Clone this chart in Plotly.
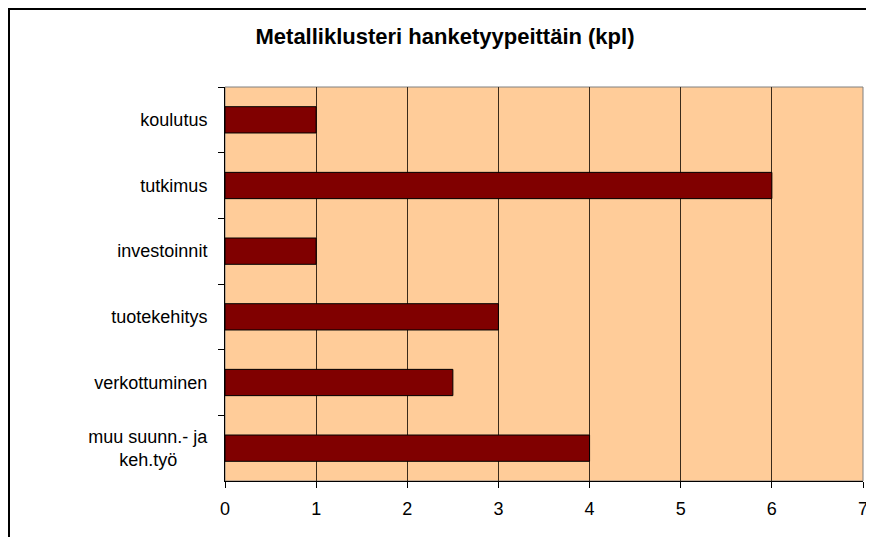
import plotly.graph_objects as go

NBSP = "\u00a0"
categories = ["koulutus", "tutkimus", "investoinnit", "tuotekehitys", "verkottuminen",
              "muu suunn.- ja<br>keh.työ" + NBSP * 6]
values = [1, 6, 1, 3, 2.5, 4]
x_ticks = [0, 1, 2, 3, 4, 5, 6, 7]
title_text = "Metalliklusteri hanketyypeittäin (kpl)"

FONT = "Liberation Sans, Arial, sans-serif"

# plot area in figure pixels
L, R, T, B = 217, 855, 79, 473
W, H = 874, 537

fig = go.Figure(go.Bar(
    x=values, y=categories, orientation="h",
    marker=dict(color="#800000", line=dict(color="#000000", width=1)),
    width=0.4,
))

px = lambda v: (v - L) / (R - L)
py = lambda v: (B - v) / (B - T)

fig.update_layout(
    width=W, height=H,
    margin=dict(l=L, r=W - R, t=T, b=H - B),
    paper_bgcolor="#ffffff",
    plot_bgcolor="#FFCC99",
    showlegend=False,
    font=dict(family=FONT, size=18, color="#000000"),
    title=dict(text="<b>" + title_text + "</b>", x=0.5, xanchor="center",
               y=1 - 28/H, yanchor="middle", xref="container", yref="container",
               font=dict(family=FONT, size=22, color="#000000")),
    xaxis=dict(range=[0, 7], tickvals=x_ticks, showgrid=True, gridcolor="#3a2a1a", gridwidth=1,
               zeroline=False, showline=True, linecolor="#000000", linewidth=1,
               ticks="outside", ticklen=6, tickcolor="#000000",
               ticklabelstandoff=5, tickfont=dict(size=18)),
    yaxis=dict(autorange="reversed", type="category", showgrid=False, zeroline=False,
               showline=True, linecolor="#000000", linewidth=1,
               ticks="outside", tickson="boundaries", ticklen=6, tickcolor="#000000",
               ticklabelstandoff=13, tickfont=dict(size=18)),
    shapes=[
        dict(type="rect", xref="paper", yref="paper", x0=0, x1=1, y0=0, y1=1,
             line=dict(color="#808080", width=1), fillcolor="rgba(0,0,0,0)", layer="below"),
        dict(type="line", xref="paper", yref="paper", x0=px(1), x1=px(1),
             y0=py(H + 20), y1=py(0), line=dict(color="#000000", width=2)),
        dict(type="line", xref="paper", yref="paper", x0=px(0), x1=px(W + 20),
             y0=py(1), y1=py(1), line=dict(color="#000000", width=2)),
    ],
)

fig.write_html("out.html")
